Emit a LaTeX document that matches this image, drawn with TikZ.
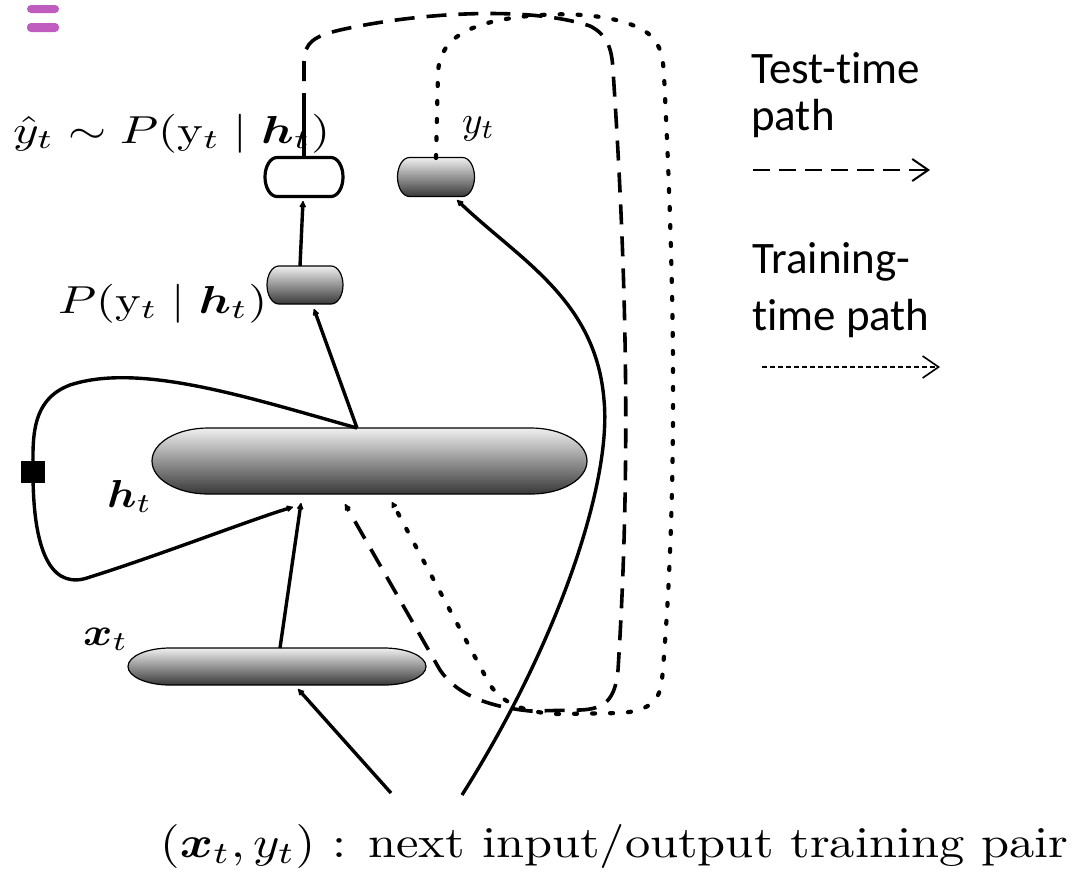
\documentclass[tikz,border=0pt]{standalone}
\usepackage{amsmath}
\usepackage{fontspec}
\usepackage{graphicx}
\newfontfamily\calib[Ligatures=NoCommon]{Carlito}
\usetikzlibrary{arrows.meta}
\definecolor{iconpurple}{RGB}{192,92,192}
\newcommand\capsule[6]{%
  \node[minimum width=#3pt, minimum height=#4pt, inner sep=0pt, outer sep=0pt] (#1) at #2 {};
  \path[#6] ([xshift=#5pt]#1.north west) -- ([xshift=-#5pt]#1.north east)
    arc[start angle=90, end angle=-90, x radius=#5pt, y radius=#4pt/2]
    -- ([xshift=#5pt]#1.south west)
    arc[start angle=270, end angle=90, x radius=#5pt, y radius=#4pt/2] -- cycle;
}
\begin{document}
\begin{tikzpicture}[x=1pt,y=-1pt,
  shaded/.style={draw=black, line width=1.2pt, top color=black!6, bottom color=black!78},
  plain/.style={draw=black, line width=3.2pt, fill=white},
  conn/.style={line width=3.4pt, -{Latex[length=8pt,width=8pt,round]}},
  testpath/.style={line width=3.6pt, dash pattern=on 20pt off 12pt, -{Latex[length=8pt,width=8pt,round]}},
  trainpath/.style={line width=4.2pt, dash pattern=on 3pt off 15pt, line cap=round, -{Latex[length=7pt,width=8pt,round]}},
  lab/.style={inner sep=0pt},
  leg/.style={inner sep=0pt, font=\calib\fontsize{45}{53}\selectfont},
  ]
\useasboundingbox (0,0) rectangle (1075,871);

% menu icon
\fill[iconpurple, rounded corners=4pt] (27,5) rectangle (59,13);
\fill[iconpurple, rounded corners=4pt] (27,23) rectangle (59,32);

% capsules
\capsule{yhat}{(304,177)}{78}{39}{12}{plain}
\capsule{yt}{(436,177)}{77}{39}{12}{shaded}
\capsule{py}{(305,285)}{76}{38}{12}{shaded}
\capsule{ht}{(369.5,461)}{435}{66}{56}{shaded}
\capsule{xt}{(277,666.5)}{298}{37}{42}{shaded}

% labels
\node[lab, anchor=base west] (yhatlab) at (13,143) {\resizebox{317pt}{3.9\height}{$\hat{y}_t \sim P(\mathrm{y}_t \mid \boldsymbol{h}_t)$}};
\node[lab, anchor=base west] (pylab) at (58,313) {\resizebox{209pt}{3.9\height}{$P(\mathrm{y}_t \mid \boldsymbol{h}_t)$}};
\node[lab, anchor=base west] (ytlab) at (462,133) {\resizebox{33pt}{3.9\height}{$y_t$}};
\node[lab, anchor=base west] (htlab) at (107,507) {\resizebox{45pt}{3.9\height}{$\boldsymbol{h}_t$}};
\node[lab, anchor=base west] (xtlab) at (83,645) {\resizebox{45pt}{3.9\height}{$\boldsymbol{x}_t$}};
\node[lab, anchor=base west] (pairlab) at (160,857) {\resizebox{908pt}{4.4\height}{$(\boldsymbol{x}_t, y_t)$ : next input/output training pair}};

% legend
\node[leg, anchor=base west] (leg1a) at (751,83) {Test-time};
\node[leg, anchor=base west] (leg1b) at (751,130) {path};
\node[leg, anchor=base west] (leg2a) at (752,273) {Training-};
\node[leg, anchor=base west] (leg2b) at (752,330) {time path};
\coordinate (la1) at (753,170); \coordinate (la2) at (930,170);
\coordinate (lb1) at (762,367); \coordinate (lb2) at (940,367);
\draw[line width=2pt, dash pattern=on 17pt off 9pt, -{Straight Barb[length=16pt,width=22pt]}] (la1) -- (la2);
\draw[line width=1.6pt, dash pattern=on 5pt off 3pt, -{Straight Barb[length=16pt,width=22pt]}] (lb1) -- (lb2);

% anchor points
\coordinate (htTop) at (357,428);
\coordinate (htB1) at (293,507);
\coordinate (htB2) at (301,503);
\coordinate (htB3) at (345,504);
\coordinate (htB4) at (392,502);
\coordinate (pyTop) at (300,266);
\coordinate (pyBot) at (314,309);
\coordinate (yhatBot) at (303,201);
\coordinate (yhatTop) at (304,158);
\coordinate (stub) at (304,113);
\coordinate (ytTop) at (436,158);
\coordinate (ytBot) at (457,200);
\coordinate (xtTop) at (280,648);
\coordinate (xtBot) at (298,689);
\coordinate (src1) at (391,793);
\coordinate (src2) at (462,795);

% solid connectors
\draw[conn] (pyTop) -- (yhatBot);
\draw[conn] (htTop) -- (pyBot);
\draw[conn] (xtTop) -- (htB2);
\draw[conn] (src1) -- (xtBot);
\draw[conn] (src2) .. controls (560,640) and (612,480) .. (604,400) .. controls (596,300) and (520,260) .. (ytBot);
\draw[line width=3.4pt] (yhatTop) -- (stub);

% recurrence loop
\draw[conn] (htTop) .. controls (250,398) and (140,362) .. (70,385) .. controls (30,400) and (33,440) .. (33,472)
  .. controls (33,560) and (55,590) .. (90,577) .. controls (160,555) and (250,520) .. (htB1);
\node[fill=black, minimum width=24pt, minimum height=22pt, inner sep=0pt] (delay) at (33,472) {};

% test-time path (dashed)
\draw[testpath] (stub) -- (304,62) .. controls (304,42) and (315,36) .. (340,30)
  .. controls (420,12) and (530,6) .. (590,26) .. controls (608,35) and (612,50) .. (613,70)
  .. controls (625,250) and (632,450) .. (618,670) .. controls (615,700) and (605,709) .. (580,710)
  -- (530,711) .. controls (482,706) and (455,692) .. (440,670) -- (htB3);

% training-time path (dotted)
\draw[trainpath] (ytTop) -- (438,72) .. controls (440,42) and (462,28) .. (500,20)
  .. controls (560,9) and (625,14) .. (650,35) .. controls (662,46) and (663,60) .. (664,75)
  .. controls (670,200) and (682,450) .. (662,680) .. controls (660,700) and (650,711) .. (620,713)
  -- (560,714) .. controls (522,713) and (502,702) .. (490,685) -- (htB4);
\end{tikzpicture}
\end{document}
